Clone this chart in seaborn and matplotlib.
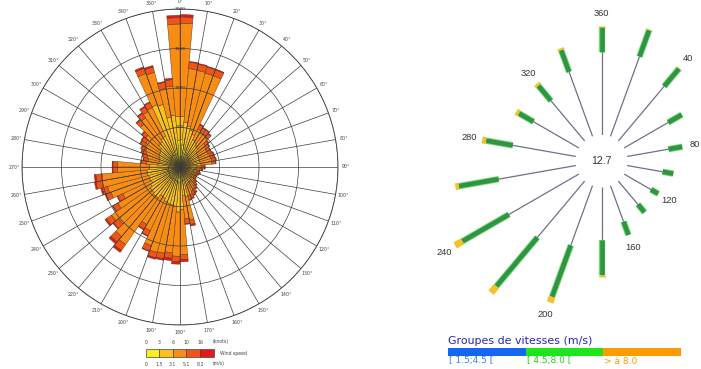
import numpy as np
import matplotlib
matplotlib.use("Agg")
import matplotlib.pyplot as plt
import seaborn as sns
from matplotlib.patches import Rectangle

sns.set_theme(style="white")
plt.rcParams["font.family"] = ["Liberation Sans", "DejaVu Sans"]

# ---------------- left rose: frequency by 5-degree sector and speed class ----------------
directions = list(range(0, 360, 5))
speed_0_15 = [350, 280, 250, 230, 200, 180, 170, 150, 150, 140, 140, 130, 130, 130, 130, 130, 130, 110,
              110, 100, 100, 100, 100, 90, 90, 90, 100, 100, 110, 110, 110, 120, 120, 180, 170, 200,
              200, 190, 190, 180, 180, 170, 170, 180, 180, 170, 170, 160, 150, 150, 150, 150, 150, 150,
              150, 130, 120, 130, 130, 130, 140, 140, 150, 160, 160, 170, 170, 200, 200, 220, 240, 340]
speed_15_31 = [290, 290, 280, 250, 240, 200, 190, 180, 170, 140, 130, 130, 130, 130, 130, 130, 130, 100,
               90, 90, 80, 80, 80, 80, 80, 80, 80, 90, 100, 110, 110, 120, 130, 200, 190, 340,
               370, 310, 300, 300, 290, 270, 260, 300, 300, 290, 290, 270, 250, 260, 260, 270, 270, 240,
               240, 150, 140, 140, 150, 160, 170, 170, 180, 220, 230, 250, 260, 640, 620, 420, 420, 300]
speed_31_51 = [1180, 680, 710, 750, 790, 150, 150, 180, 170, 140, 130, 130, 130, 140, 140, 150, 140, 60,
               70, 60, 40, 50, 40, 40, 40, 50, 60, 70, 80, 100, 120, 130, 130, 300, 300, 570,
               560, 590, 620, 640, 590, 450, 410, 720, 670, 560, 600, 480, 400, 520, 540, 580, 570, 400,
               400, 150, 150, 160, 180, 190, 210, 220, 240, 330, 370, 390, 400, 420, 420, 370, 370, 1170]
speed_51_82 = [80, 80, 80, 80, 80, 60, 60, 60, 60, 50, 50, 50, 50, 50, 50, 50, 50, 40,
               40, 30, 30, 30, 30, 30, 30, 30, 30, 40, 40, 50, 50, 50, 50, 60, 60, 60,
               70, 70, 70, 70, 70, 70, 70, 90, 90, 80, 80, 70, 70, 70, 70, 80, 80, 60,
               60, 60, 60, 60, 60, 60, 60, 60, 60, 70, 70, 70, 70, 70, 70, 80, 80, 80]
speed_above_82 = [30, 10, 10, 10, 10, 10, 10, 10, 10, 10, 10, 0, 0, 10, 10, 10, 10, 10,
                  10, 10, 0, 10, 0, 0, 0, 0, 10, 10, 10, 10, 10, 10, 10, 20, 10, 30,
                  30, 30, 20, 20, 10, 10, 10, 30, 30, 10, 20, 10, 10, 10, 20, 20, 20, 10,
                  10, 10, 10, 10, 10, 10, 10, 10, 10, 10, 10, 10, 10, 20, 20, 10, 20, 30]
rose_classes = [speed_0_15, speed_15_31, speed_31_51, speed_51_82, speed_above_82]
rose_colors = sns.color_palette(["#f6f020", "#fbc21c", "#f98c12", "#f25418", "#e5191c"])
ring_values = [500, 1000, 1500, 2000]
compass_ticks = list(range(0, 360, 10))
knots_edges = ["0", "3", "6", "10", "16"]
ms_edges = ["0", "1.5", "3.1", "5.1", "8.2"]

# ---------------- right rose: percentage by 20-degree sector and speed group ----------------
sectors = list(range(0, 360, 20))
group_15_45 = [4.60, 4.70, 3.95, 2.82, 2.32, 1.99, 1.72, 1.70, 2.13,
               2.93, 3.52, 4.07, 4.47, 4.33, 3.54, 2.90, 2.91, 3.80]
group_45_80 = [1.38, 1.55, 1.27, 0.86, 0.77, 0.60, 0.46, 0.56, 0.78,
               1.93, 3.03, 3.53, 2.97, 2.24, 1.50, 0.93, 1.08, 1.28]
group_above_80 = [0.04, 0.05, 0.03, 0.0, 0.0, 0.0, 0.0, 0.0, 0.0,
                  0.13, 0.33, 0.46, 0.46, 0.19, 0.22, 0.17, 0.14, 0.11]
calm_pct = 12.7
labelled_sectors = [0, 40, 80, 120, 160, 200, 240, 280, 320]
group_names = ["[ 1.5;4.5 [", "[ 4.5;8.0 [", "> à 8.0"]
group_bar_colors = ["#1666f2", "#1ee41e", "#ff9a00"]
group_text_colors = ["#3a7ef0", "#22cc22", "#ff9a00"]

W, H = 701, 369
fig = plt.figure(figsize=(W / 100, H / 100), dpi=100)


def box(x0, y0, w, h):
    """Pixel box with a top-left origin -> figure fraction rect."""
    return [x0 / W, 1 - (y0 + h) / H, w / W, h / H]


# ---- left polar chart ----
ax = fig.add_axes(box(22, 9, 316, 316), projection="polar")
ax.set_theta_zero_location("N")
ax.set_theta_direction(-1)
theta = np.deg2rad(directions)
base = np.zeros(len(directions))
for vals, col in zip(rose_classes, rose_colors):
    vals = np.asarray(vals, dtype=float)
    ax.bar(theta, vals, width=np.deg2rad(5), bottom=base, align="edge",
           color=col, edgecolor="#4a3318", linewidth=0.3, zorder=1)
    base += vals
ax.set_ylim(0, ring_values[-1])
ax.set_yticks(ring_values)
ax.set_yticklabels([])
ax.set_xticks(np.deg2rad(compass_ticks))
ax.set_xticklabels([])
ax.grid(True, color="#3c3c3c", linewidth=0.5)
ax.set_axisbelow(False)
ax.spines["polar"].set_color("#3c3c3c")
ax.spines["polar"].set_linewidth(0.6)
for d in compass_ticks:
    ax.text(np.deg2rad(d), ring_values[-1] * 1.05, f"{d}°", fontsize=3.4, color="#444444",
            ha="center", va="center", family="DejaVu Sans", clip_on=False)
for v in ring_values:
    ax.text(0, v, str(v), fontsize=3.2, color="#333333", ha="center", va="center",
            family="DejaVu Sans", zorder=5)

# ---- right radial chart ----
hole = 1.4365
ax2 = fig.add_axes(box(421.5, -19, 360, 360), projection="polar")
ax2.set_theta_zero_location("N")
ax2.set_theta_direction(-1)
ax2.set_ylim(0, 8.508)
ax2.set_rorigin(-hole)
ax2.set_axis_off()
for ang, a, b, c in zip(sectors, group_15_45, group_45_80, group_above_80):
    t = np.deg2rad(ang)
    ax2.plot([t, t], [0, a], color="#6e7288", lw=0.9, solid_capstyle="butt")
    ax2.plot([t, t], [a, a + b], color="#79d86a", lw=4.6, solid_capstyle="butt")
    ax2.plot([t, t], [a, a + b], color="#2f9446", lw=3.3, solid_capstyle="butt")
    if c > 0:
        ax2.plot([t, t], [a + b, a + b + c], color="#f1c22c", lw=5.0, solid_capstyle="butt")
    if ang in labelled_sectors:
        ax2.text(t, a + b + c + 0.72, "360" if ang == 0 else str(ang), fontsize=6.7,
                 color="#333333", ha="center", va="center", clip_on=False)
ax2.text(0, -hole, f"{calm_pct}", fontsize=7.6, color="#333333", ha="center", va="center")

# ---- legends (pixel-space overlay) ----
ov = fig.add_axes([0, 0, 1, 1])
ov.set_xlim(0, W)
ov.set_ylim(H, 0)
ov.set_axis_off()

edges_x = [145.7, 159.3, 172.7, 186.3, 200.0, 214.0]
for i, col in enumerate(rose_colors):
    ov.add_patch(Rectangle((edges_x[i], 349), edges_x[i + 1] - edges_x[i], 8.3,
                           facecolor=col, edgecolor="#444444", linewidth=0.5))
for x, kt, ms in zip(edges_x, knots_edges, ms_edges):
    ov.text(x, 342, kt, fontsize=3.3, color="#444444", ha="center", va="center", family="DejaVu Sans")
    ov.text(x, 364, ms, fontsize=3.3, color="#444444", ha="center", va="center", family="DejaVu Sans")
ov.text(221, 342, "(knots)", fontsize=3.3, color="#444444", ha="center", va="center", family="DejaVu Sans")
ov.text(219, 364, "(m/s)", fontsize=3.3, color="#444444", ha="center", va="center", family="DejaVu Sans")
ov.text(220, 353, "Wind speed", fontsize=3.3, color="#444444", ha="left", va="center", family="DejaVu Sans")

ov.text(448, 341, "Groupes de vitesses (m/s)", fontsize=7.9, color="#2424c8",
        ha="left", va="center", family="DejaVu Sans")
seg_x = [448, 526, 603.3, 681]
for i, col in enumerate(group_bar_colors):
    ov.add_patch(Rectangle((seg_x[i], 348.3), seg_x[i + 1] - seg_x[i], 7.4,
                           facecolor=col, edgecolor="none"))
    ov.text(seg_x[i] + 1, 361, group_names[i], fontsize=6.5,
            color=group_text_colors[i], ha="left", va="center", family="DejaVu Sans")

fig.savefig("out.png", dpi=100, facecolor="white")
